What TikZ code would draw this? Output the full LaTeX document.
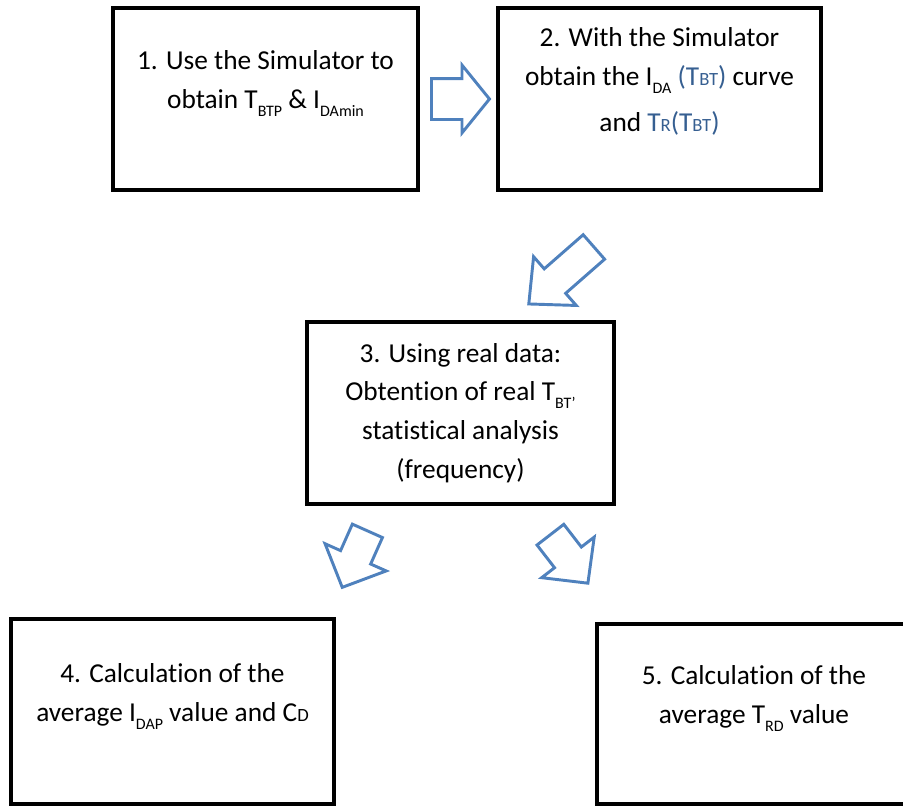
\documentclass[tikz,border=0pt]{standalone}
\usepackage{fontspec}
\setmainfont[Ligatures=NoCommon]{Carlito}
\usetikzlibrary{shapes.arrows}
\definecolor{arrowblue}{RGB}{79,129,189}
\definecolor{textblue}{RGB}{54,95,145}
\newcommand{\lsub}[1]{\raisebox{-6pt}{\fontsize{12}{12}\selectfont #1}}
\newcommand{\ssub}[1]{{\fontsize{14}{14}\selectfont #1}}
\tikzset{
	stepbox/.style={draw, line width=2.8pt, align=center, inner sep=0pt, font=\fontsize{20.5}{29}\selectfont}, % the black boxes
	blockarrow/.style={single arrow, draw=arrowblue, line width=2.2pt, inner xsep=0pt, anchor=tail}, % the hollow blue arrows
}

\begin{document}
\begin{tikzpicture}[x=0.75pt, y=-0.75pt]
		\useasboundingbox (0,0) rectangle (903,807);
		% Define steps
		\node[stepbox, minimum width=228.75pt, minimum height=136.5pt] (s1) at (265.5,99) {1. Use the Simulator to\\obtain T\lsub{BTP} \& I\lsub{DAmin}\\\mbox{}};
		\node[stepbox, minimum width=242.25pt, minimum height=136.5pt] (s2) at (659.5,99) {2. With the Simulator\\obtain the I\lsub{DA} \textcolor{textblue}{(T\ssub{BT})} curve\\[6pt]and \textcolor{textblue}{T\ssub{R}(T\ssub{BT})}\\\mbox{}};
		\node[stepbox, minimum width=230.25pt, minimum height=136.5pt] (s3) at (460.5,413) {3. Using real data:\\Obtention of real T\lsub{BT’}\\statistical analysis\\(frequency)};
		\node[stepbox, minimum width=242.25pt, minimum height=138.75pt] (s4) at (172.5,711.5) {4. Calculation of the\\average I\lsub{DAP} value and C\ssub{D}\\\mbox{}};
		\node[stepbox, minimum width=235.5pt, minimum height=135pt] (s5) at (754,714) {5. Calculation of the\\average T\lsub{RD} value\\\mbox{}};
		
		% Arrows
		\node[blockarrow, inner ysep=14.25pt, minimum height=43.5pt, minimum width=48.75pt, single arrow head extend=10.1pt, single arrow tip angle=102] (a12) at (430,99) {};
		\node[blockarrow, rotate=221.2, inner ysep=11.1pt, minimum height=64.9pt, minimum width=46.5pt, single arrow head extend=12.1pt, single arrow tip angle=86] (a23) at (595,246) {};
		\node[blockarrow, rotate=246, inner ysep=11.25pt, minimum height=46.4pt, minimum width=48pt, single arrow head extend=12.75pt, single arrow tip angle=91] (a34) at (368,529.5) {};
		\node[blockarrow, rotate=-52.3, inner ysep=11.6pt, minimum height=46pt, minimum width=47.7pt, single arrow head extend=12.2pt, single arrow tip angle=91] (a35) at (549.5,533.5) {};
	\end{tikzpicture}
\end{document}
